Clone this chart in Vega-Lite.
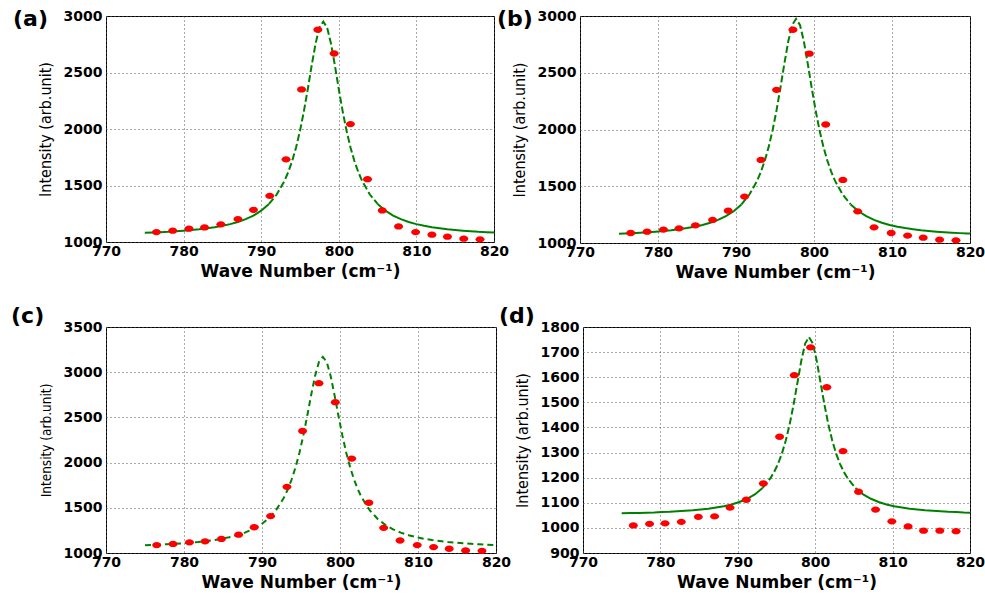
{
  "$schema": "https://vega.github.io/schema/vega-lite/v6.json",
  "padding": {"left": 10, "top": 7, "right": 0, "bottom": 0},
  "background": "white",
  "datasets": {
    "dots_abc": [
      {"x":776.5,"y":1088},{"x":778.6,"y":1100},{"x":780.7,"y":1118},{"x":782.7,"y":1129},{"x":784.8,"y":1156},{"x":787.0,"y":1203},{"x":789.0,"y":1285},{"x":791.1,"y":1409},{"x":793.2,"y":1732},{"x":795.2,"y":2350},{"x":797.3,"y":2879},{"x":799.4,"y":2668},{"x":801.5,"y":2044},{"x":803.7,"y":1556},{"x":805.6,"y":1279},{"x":807.7,"y":1138},{"x":809.9,"y":1088},{"x":812.0,"y":1065},{"x":814.0,"y":1047},{"x":816.1,"y":1029},{"x":818.2,"y":1024}
    ],
    "dots_d": [
      {"x":776.5,"y":1010},{"x":778.6,"y":1016},{"x":780.6,"y":1018},{"x":782.7,"y":1024},{"x":784.9,"y":1044},{"x":787.0,"y":1046},{"x":789.0,"y":1081},{"x":791.1,"y":1112},{"x":793.3,"y":1177},{"x":795.4,"y":1363},{"x":797.3,"y":1608},{"x":799.4,"y":1719},{"x":801.5,"y":1560},{"x":803.6,"y":1306},{"x":805.6,"y":1144},{"x":807.8,"y":1073},{"x":809.9,"y":1026},{"x":812.0,"y":1006},{"x":814.0,"y":989},{"x":816.1,"y":989},{"x":818.2,"y":987}
    ],
    "fit_a": [
      {"x":775,"y":1081},{"x":776,"y":1084},{"x":777,"y":1087},{"x":778,"y":1090},{"x":779,"y":1095},{"x":780,"y":1100},{"x":781,"y":1106},{"x":782,"y":1112},{"x":783,"y":1121},{"x":784,"y":1131},{"x":785,"y":1143},{"x":786,"y":1158},{"x":787,"y":1177},{"x":788,"y":1202},{"x":789,"y":1234},{"x":790,"y":1277},{"x":791,"y":1337},{"x":792,"y":1420},{"x":793,"y":1541},{"x":793.5,"y":1621},{"x":794,"y":1719},{"x":794.5,"y":1839},{"x":795,"y":1984},{"x":795.5,"y":2156},{"x":796,"y":2352},{"x":796.5,"y":2560},{"x":797,"y":2754},{"x":797.5,"y":2897},{"x":798,"y":2950},{"x":798.5,"y":2897},{"x":799,"y":2754},{"x":799.5,"y":2560},{"x":800,"y":2352},{"x":800.5,"y":2156},{"x":801,"y":1984},{"x":801.5,"y":1839},{"x":802,"y":1719},{"x":802.5,"y":1621},{"x":803,"y":1541},{"x":804,"y":1420},{"x":805,"y":1337},{"x":806,"y":1277},{"x":807,"y":1234},{"x":808,"y":1202},{"x":809,"y":1177},{"x":810,"y":1158},{"x":811,"y":1143},{"x":812,"y":1131},{"x":813,"y":1121},{"x":814,"y":1112},{"x":815,"y":1106},{"x":816,"y":1100},{"x":817,"y":1095},{"x":818,"y":1090},{"x":819,"y":1087},{"x":820,"y":1084}
    ],
    "fit_b": [
      {"x":775,"y":1082},{"x":775.7,"y":1084},{"x":776.7,"y":1087},{"x":777.7,"y":1091},{"x":778.7,"y":1095},{"x":779.7,"y":1100},{"x":780.7,"y":1106},{"x":781.7,"y":1113},{"x":782.7,"y":1122},{"x":783.7,"y":1132},{"x":784.7,"y":1144},{"x":785.7,"y":1159},{"x":786.7,"y":1179},{"x":787.7,"y":1204},{"x":788.7,"y":1236},{"x":789.7,"y":1280},{"x":790.7,"y":1340},{"x":791.7,"y":1425},{"x":792.7,"y":1547},{"x":793.2,"y":1629},{"x":793.7,"y":1728},{"x":794.2,"y":1849},{"x":794.7,"y":1996},{"x":795.2,"y":2171},{"x":795.7,"y":2369},{"x":796.2,"y":2580},{"x":796.7,"y":2777},{"x":797.2,"y":2921},{"x":797.7,"y":2975},{"x":798.2,"y":2921},{"x":798.7,"y":2777},{"x":799.2,"y":2580},{"x":799.7,"y":2369},{"x":800.2,"y":2171},{"x":800.7,"y":1996},{"x":801.2,"y":1849},{"x":801.7,"y":1728},{"x":802.2,"y":1629},{"x":802.7,"y":1547},{"x":803.7,"y":1425},{"x":804.7,"y":1340},{"x":805.7,"y":1280},{"x":806.7,"y":1236},{"x":807.7,"y":1204},{"x":808.7,"y":1179},{"x":809.7,"y":1159},{"x":810.7,"y":1144},{"x":811.7,"y":1132},{"x":812.7,"y":1122},{"x":813.7,"y":1113},{"x":814.7,"y":1106},{"x":815.7,"y":1100},{"x":816.7,"y":1095},{"x":817.7,"y":1091},{"x":818.7,"y":1087},{"x":819.7,"y":1084},{"x":820,"y":1083}
    ],
    "fit_c": [
      {"x":775,"y":1087},{"x":775.8,"y":1089},{"x":776.8,"y":1092},{"x":777.8,"y":1097},{"x":778.8,"y":1102},{"x":779.8,"y":1107},{"x":780.8,"y":1114},{"x":781.8,"y":1122},{"x":782.8,"y":1132},{"x":783.8,"y":1143},{"x":784.8,"y":1157},{"x":785.8,"y":1175},{"x":786.8,"y":1197},{"x":787.8,"y":1225},{"x":788.8,"y":1262},{"x":789.8,"y":1311},{"x":790.8,"y":1379},{"x":791.8,"y":1474},{"x":792.8,"y":1611},{"x":793.3,"y":1702},{"x":793.8,"y":1813},{"x":794.3,"y":1948},{"x":794.8,"y":2110},{"x":795.3,"y":2301},{"x":795.8,"y":2518},{"x":796.3,"y":2746},{"x":796.8,"y":2958},{"x":797.3,"y":3113},{"x":797.8,"y":3170},{"x":798.3,"y":3113},{"x":798.8,"y":2958},{"x":799.3,"y":2746},{"x":799.8,"y":2518},{"x":800.3,"y":2301},{"x":800.8,"y":2110},{"x":801.3,"y":1948},{"x":801.8,"y":1813},{"x":802.3,"y":1702},{"x":802.8,"y":1611},{"x":803.8,"y":1474},{"x":804.8,"y":1379},{"x":805.8,"y":1311},{"x":806.8,"y":1262},{"x":807.8,"y":1225},{"x":808.8,"y":1197},{"x":809.8,"y":1175},{"x":810.8,"y":1157},{"x":811.8,"y":1143},{"x":812.8,"y":1132},{"x":813.8,"y":1122},{"x":814.8,"y":1114},{"x":815.8,"y":1107},{"x":816.8,"y":1102},{"x":817.8,"y":1097},{"x":818.8,"y":1092},{"x":819.8,"y":1089}
    ],
    "fit_d": [
      {"x":775,"y":1058},{"x":776.2,"y":1059},{"x":777.2,"y":1059},{"x":778.2,"y":1060},{"x":779.2,"y":1061},{"x":780.2,"y":1063},{"x":781.2,"y":1064},{"x":782.2,"y":1066},{"x":783.2,"y":1068},{"x":784.2,"y":1070},{"x":785.2,"y":1073},{"x":786.2,"y":1076},{"x":787.2,"y":1081},{"x":788.2,"y":1086},{"x":789.2,"y":1093},{"x":790.2,"y":1103},{"x":791.2,"y":1116},{"x":792.2,"y":1133},{"x":793.2,"y":1159},{"x":794.2,"y":1197},{"x":794.7,"y":1223},{"x":795.2,"y":1255},{"x":795.7,"y":1296},{"x":796.2,"y":1348},{"x":796.7,"y":1412},{"x":797.2,"y":1490},{"x":797.7,"y":1577},{"x":798.2,"y":1665},{"x":798.7,"y":1734},{"x":799.2,"y":1760},{"x":799.7,"y":1734},{"x":800.2,"y":1665},{"x":800.7,"y":1577},{"x":801.2,"y":1490},{"x":801.7,"y":1412},{"x":802.2,"y":1348},{"x":802.7,"y":1296},{"x":803.2,"y":1255},{"x":803.7,"y":1223},{"x":804.2,"y":1197},{"x":805.2,"y":1159},{"x":806.2,"y":1133},{"x":807.2,"y":1116},{"x":808.2,"y":1103},{"x":809.2,"y":1093},{"x":810.2,"y":1086},{"x":811.2,"y":1081},{"x":812.2,"y":1076},{"x":813.2,"y":1073},{"x":814.2,"y":1070},{"x":815.2,"y":1068},{"x":816.2,"y":1066},{"x":817.2,"y":1064},{"x":818.2,"y":1063},{"x":819.2,"y":1061},{"x":820,"y":1060}
    ]
  },
  "vconcat": [
    {
      "hconcat": [
        {
          "width": 388, "height": 226,
          "title": {"text": "(a)", "dx": -24, "offset": -22},
          "encoding": {
            "x": {"field": "x", "type": "quantitative", "scale": {"domain": [770, 820], "nice": false, "zero": false}, "axis": {"values": [770, 780, 790, 800, 810, 820], "title": "Wave Number (cm⁻¹)"}},
            "y": {"field": "y", "type": "quantitative", "scale": {"domain": [1000, 3000], "nice": false, "zero": false}, "axis": {"values": [1000, 1500, 2000, 2500, 3000], "title": "Intensity (arb.unit)"}}
          },
          "layer": [
            {"data": {"name": "fit_a"}, "transform": [{"filter": "datum.x <= 791"}], "mark": {"type": "line", "color": "#008000", "strokeWidth": 2}},
            {"data": {"name": "fit_a"}, "transform": [{"filter": "datum.x >= 791 && datum.x <= 805"}], "mark": {"type": "line", "color": "#008000", "strokeWidth": 2, "strokeDash": [7, 3]}},
            {"data": {"name": "fit_a"}, "transform": [{"filter": "datum.x >= 805"}], "mark": {"type": "line", "color": "#008000", "strokeWidth": 2}},
            {"data": {"name": "dots_abc"}, "mark": {"type": "point", "filled": true, "color": "#ff0000", "size": 81, "opacity": 1, "shape": "M-1,0A1,0.7,0,1,0,1,0A1,0.7,0,1,0,-1,0Z"}}
          ]
        },
        {
          "width": 390, "height": 227,
          "title": {"text": "(b)", "dx": -14, "offset": -22},
          "encoding": {
            "x": {"field": "x", "type": "quantitative", "scale": {"domain": [770, 820], "nice": false, "zero": false}, "axis": {"values": [770, 780, 790, 800, 810, 820], "title": "Wave Number (cm⁻¹)"}},
            "y": {"field": "y", "type": "quantitative", "scale": {"domain": [1000, 3000], "nice": false, "zero": false}, "axis": {"values": [1000, 1500, 2000, 2500, 3000], "title": "Intensity (arb.unit)"}}
          },
          "layer": [
            {"data": {"name": "fit_b"}, "transform": [{"filter": "datum.x <= 790.7"}], "mark": {"type": "line", "color": "#008000", "strokeWidth": 2}},
            {"data": {"name": "fit_b"}, "transform": [{"filter": "datum.x >= 790.7 && datum.x <= 804.7"}], "mark": {"type": "line", "color": "#008000", "strokeWidth": 2, "strokeDash": [7, 3]}},
            {"data": {"name": "fit_b"}, "transform": [{"filter": "datum.x >= 804.7"}], "mark": {"type": "line", "color": "#008000", "strokeWidth": 2}},
            {"data": {"name": "dots_abc"}, "mark": {"type": "point", "filled": true, "color": "#ff0000", "size": 81, "opacity": 1, "shape": "M-1,0A1,0.7,0,1,0,1,0A1,0.7,0,1,0,-1,0Z"}}
          ]
        }
      ],
      "spacing": -14
    },
    {
      "hconcat": [
        {
          "width": 390, "height": 226,
          "title": {"text": "(c)", "dx": -28, "offset": -8},
          "encoding": {
            "x": {"field": "x", "type": "quantitative", "scale": {"domain": [770, 820], "nice": false, "zero": false}, "axis": {"values": [770, 780, 790, 800, 810, 820], "title": "Wave Number (cm⁻¹)"}},
            "y": {"field": "y", "type": "quantitative", "scale": {"domain": [1000, 3500], "nice": false, "zero": false}, "axis": {"values": [1000, 1500, 2000, 2500, 3000, 3500], "title": "Intensity (arb.unit)", "titleFontSize": 13.5}}
          },
          "layer": [
            {"data": {"name": "fit_c"}, "mark": {"type": "line", "color": "#008000", "strokeWidth": 2, "strokeDash": [6, 4]}},
            {"data": {"name": "dots_abc"}, "mark": {"type": "point", "filled": true, "color": "#ff0000", "size": 81, "opacity": 1, "shape": "M-1,0A1,0.7,0,1,0,1,0A1,0.7,0,1,0,-1,0Z"}}
          ]
        },
        {
          "width": 387, "height": 226,
          "title": {"text": "(d)", "dx": -15, "offset": -8},
          "encoding": {
            "x": {"field": "x", "type": "quantitative", "scale": {"domain": [770, 820], "nice": false, "zero": false}, "axis": {"values": [770, 780, 790, 800, 810, 820], "title": "Wave Number (cm⁻¹)"}},
            "y": {"field": "y", "type": "quantitative", "scale": {"domain": [900, 1800], "nice": false, "zero": false}, "axis": {"values": [900, 1000, 1100, 1200, 1300, 1400, 1500, 1600, 1700, 1800], "title": "Intensity (arb.unit)"}}
          },
          "layer": [
            {"data": {"name": "fit_d"}, "transform": [{"filter": "datum.x <= 793.2"}], "mark": {"type": "line", "color": "#008000", "strokeWidth": 2}},
            {"data": {"name": "fit_d"}, "transform": [{"filter": "datum.x >= 793.2 && datum.x <= 805.2"}], "mark": {"type": "line", "color": "#008000", "strokeWidth": 2, "strokeDash": [7, 3]}},
            {"data": {"name": "fit_d"}, "transform": [{"filter": "datum.x >= 805.2"}], "mark": {"type": "line", "color": "#008000", "strokeWidth": 2}},
            {"data": {"name": "dots_d"}, "mark": {"type": "point", "filled": true, "color": "#ff0000", "size": 81, "opacity": 1, "shape": "M-1,0A1,0.7,0,1,0,1,0A1,0.7,0,1,0,-1,0Z"}}
          ]
        }
      ],
      "spacing": -14
    }
  ],
  "spacing": 23,
  "config": {
    "view": {"stroke": "black", "strokeWidth": 1},
    "axis": {
      "labelFont": "DejaVu Sans", "labelFontWeight": "bold", "labelFontSize": 14, "labelColor": "black", "format": "d",
      "titleFont": "DejaVu Sans", "titleFontWeight": "bold", "titleFontSize": 17, "titleColor": "black",
      "grid": true, "gridColor": "#555555", "gridDash": [1, 3], "gridWidth": 1, "gridOpacity": 1,
      "ticks": false, "domain": false, "labelFlush": false, "labelOverlap": false, "labelBound": false
    },
    "axisX": {"labelPadding": 2, "titlePadding": 5},
    "axisY": {"labelPadding": 4, "titlePadding": 10, "titleFont": "DejaVu Sans Condensed, Liberation Sans", "titleFontWeight": "normal", "titleFontSize": 16},
    "title": {"font": "DejaVu Sans", "fontWeight": "bold", "fontSize": 22, "anchor": "start", "color": "black"}
  }
}
